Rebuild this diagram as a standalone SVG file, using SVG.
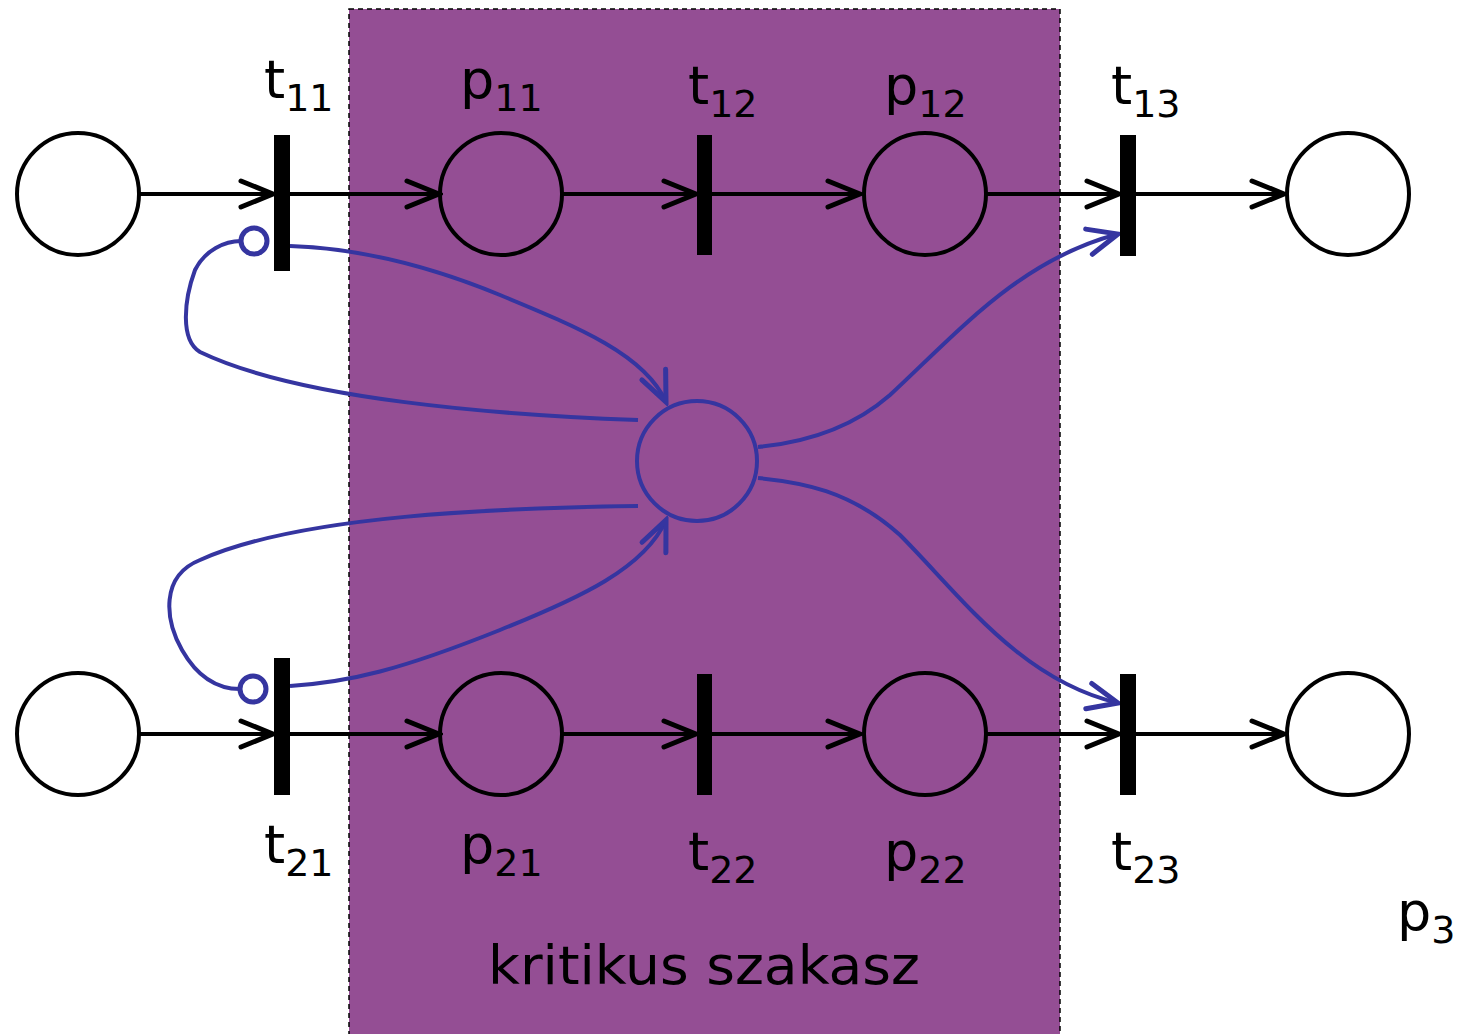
<svg xmlns="http://www.w3.org/2000/svg" width="1461" height="1034" viewBox="0 0 1461 1034">
<style>
.pl{fill:none;stroke:#000;stroke-width:4}
.bp{fill:none;stroke:#3535A0;stroke-width:4}
.bi{fill:none;stroke:#3535A0;stroke-width:5}
.ar{fill:none;stroke:#000;stroke-width:4;marker-end:url(#ab)}
.br{fill:none;stroke:#3535A0;stroke-width:4}
.ba{fill:none;stroke:#3535A0;stroke-width:4;marker-end:url(#ub)}
.tr{fill:#000}
text{font-family:"DejaVu Sans","Liberation Sans",sans-serif;font-size:54px;fill:#000}
.s{font-size:38px}
</style>
<defs>
<marker id="ab" viewBox="-38 -18 42 36" refX="0" refY="0" markerWidth="42" markerHeight="36" markerUnits="userSpaceOnUse" orient="auto"><path d="M-32,-13 L0,0 L-32,13" fill="none" stroke="#000" stroke-width="5" stroke-linecap="round" stroke-linejoin="miter"/></marker>
<marker id="ub" viewBox="-38 -18 42 36" refX="0" refY="0" markerWidth="42" markerHeight="36" markerUnits="userSpaceOnUse" orient="auto"><path d="M-30,-13 L0,0 L-30,13" fill="none" stroke="#3535A0" stroke-width="5" stroke-linecap="round"/></marker>
</defs>
<rect x="349" y="9" width="711" height="1040" fill="#944E94" stroke="#000" stroke-width="1.5" stroke-dasharray="5,4"/>
<g id="connectors">
<path class="ar" d="M140,194 H273"/>
<path class="ar" d="M290,194 H439"/>
<path class="ar" d="M563,194 H696"/>
<path class="ar" d="M712,194 H860"/>
<path class="ar" d="M987,194 H1119"/>
<path class="ar" d="M1136,194 H1284"/>
<path class="ar" d="M140,734 H273"/>
<path class="ar" d="M290,734 H439"/>
<path class="ar" d="M563,734 H696"/>
<path class="ar" d="M712,734 H860"/>
<path class="ar" d="M987,734 H1119"/>
<path class="ar" d="M1136,734 H1284"/>
<path class="ba" d="M290,246 C350,248 420,262 500,295 C580,328 645,355 666,402"/>
<path class="br" d="M638,420 C500,415 300,400 200,352 C180,340 184,300 195,270 C205,250 225,241 241,241"/>
<path class="br" d="M638,506 C500,508 300,515 200,560 C160,576 165,620 182,650 C198,678 218,689 240,689"/>
<path class="ba" d="M290,686 C350,682 400,670 500,630 C580,598 645,568 666,520"/>
<path class="ba" d="M758,447 C800,443 850,430 890,395 C960,330 1020,260 1118,234"/>
<path class="ba" d="M758,478 C800,482 850,490 900,535 C960,595 1020,680 1118,703"/>
</g>
<g id="inh1"><circle cx="254" cy="241" r="13" class="bi"/></g>
<g id="inh2"><circle cx="253" cy="689" r="13" class="bi"/></g>
<g id="pin1"><circle cx="78" cy="194" r="61" class="pl"/></g>
<g id="p11"><circle cx="501" cy="194" r="61" class="pl"/></g>
<g id="p12"><circle cx="925" cy="194" r="61" class="pl"/></g>
<g id="pout1"><circle cx="1348" cy="194" r="61" class="pl"/></g>
<g id="pin2"><circle cx="78" cy="734" r="61" class="pl"/></g>
<g id="p21"><circle cx="501" cy="734" r="61" class="pl"/></g>
<g id="p22"><circle cx="925" cy="734" r="61" class="pl"/></g>
<g id="pout2"><circle cx="1348" cy="734" r="61" class="pl"/></g>
<g id="p3"><circle cx="697" cy="461" r="60" class="bp"/></g>
<g id="t11"><rect x="274" y="135" width="16" height="136" class="tr"/></g>
<g id="t12"><rect x="697" y="135" width="15" height="120" class="tr"/></g>
<g id="t13"><rect x="1120" y="135" width="16" height="121" class="tr"/></g>
<g id="t21"><rect x="274" y="658" width="16" height="137" class="tr"/></g>
<g id="t22"><rect x="697" y="674" width="15" height="121" class="tr"/></g>
<g id="t23"><rect x="1120" y="674" width="16" height="121" class="tr"/></g>
<g id="labels">
<text x="264" y="98">t<tspan class="s" dy="13">11</tspan></text>
<text x="460" y="98">p<tspan class="s" dy="13">11</tspan></text>
<text x="688" y="104">t<tspan class="s" dy="13">12</tspan></text>
<text x="884" y="104">p<tspan class="s" dy="13">12</tspan></text>
<text x="1111" y="104">t<tspan class="s" dy="13">13</tspan></text>
<text x="264" y="863">t<tspan class="s" dy="13">21</tspan></text>
<text x="460" y="863">p<tspan class="s" dy="13">21</tspan></text>
<text x="688" y="870">t<tspan class="s" dy="13">22</tspan></text>
<text x="884" y="870">p<tspan class="s" dy="13">22</tspan></text>
<text x="1111" y="870">t<tspan class="s" dy="13">23</tspan></text>
<text x="1397" y="930">p<tspan class="s" dy="13">3</tspan></text>
<text x="488" y="984" font-size="55" textLength="432" lengthAdjust="spacingAndGlyphs">kritikus szakasz</text>
</g>
</svg>
